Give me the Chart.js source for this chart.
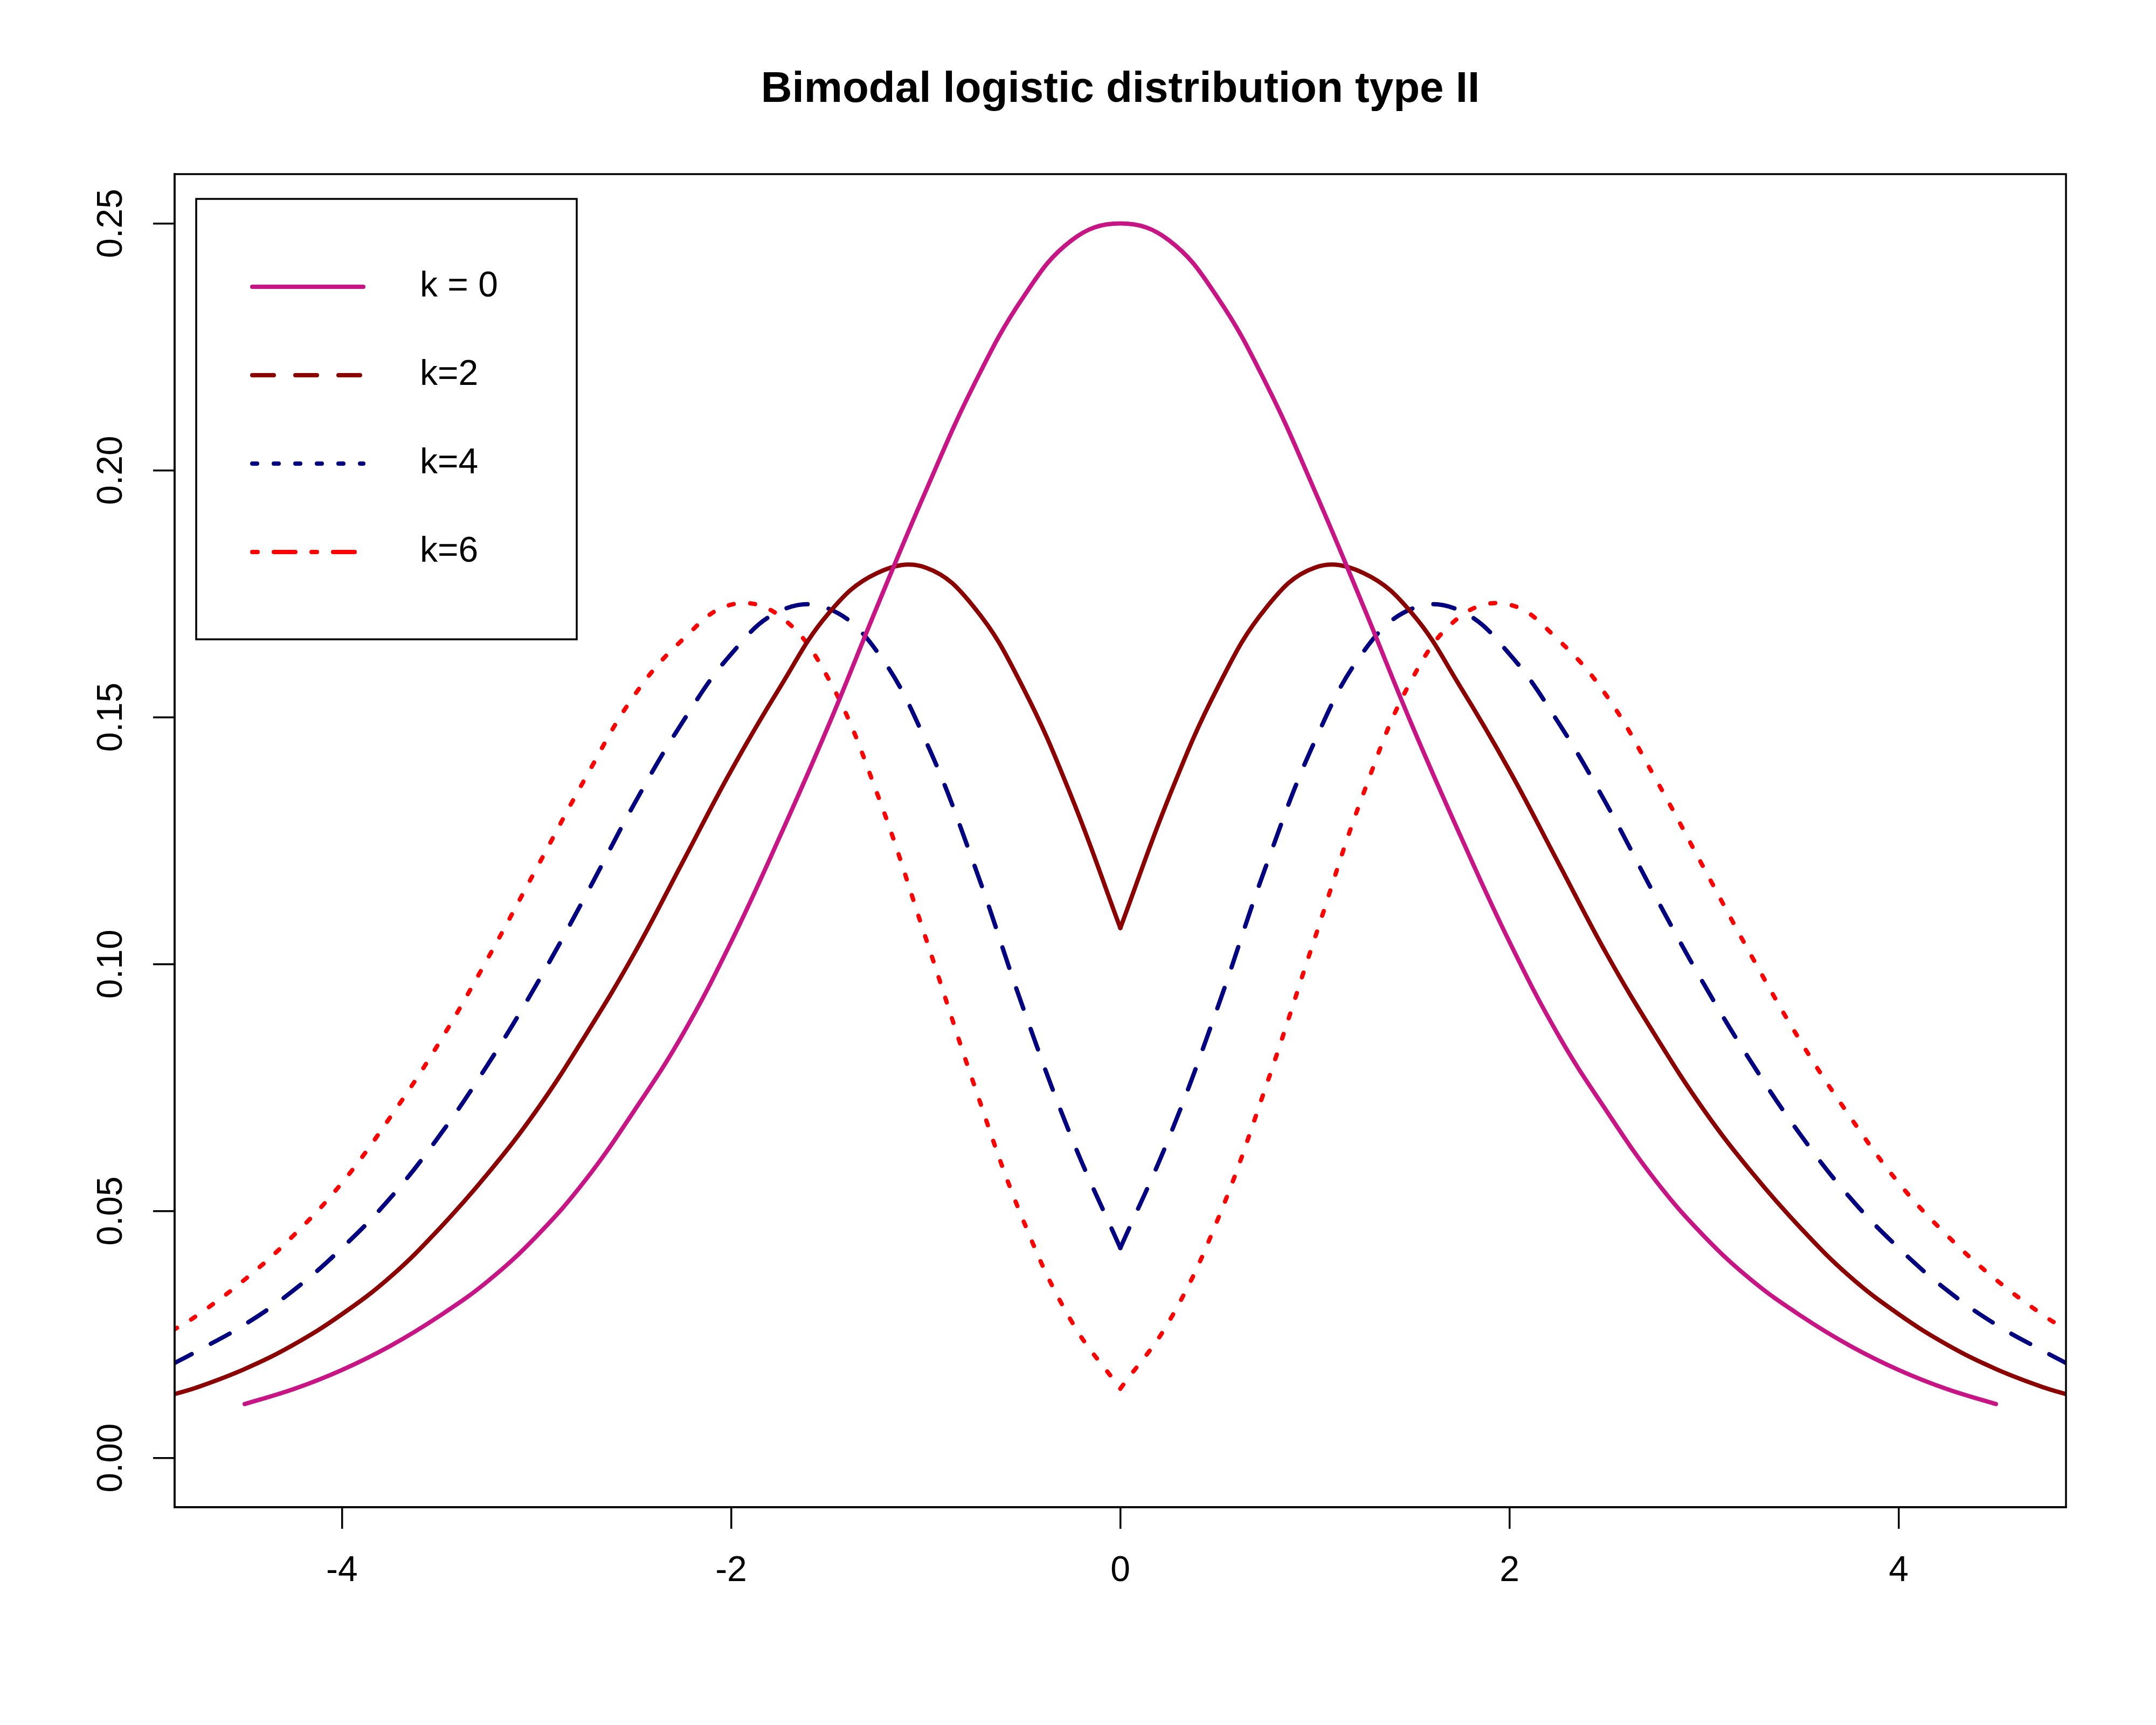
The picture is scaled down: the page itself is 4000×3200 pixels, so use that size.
<!DOCTYPE html>
<html>
<head>
<meta charset="utf-8">
<title>Bimodal logistic distribution type II</title>
<script src="https://cdn.jsdelivr.net/npm/chart.js@4.4.1/dist/chart.umd.min.js"></script>
<style>
  html, body { margin: 0; padding: 0; background: #fff; }
  canvas { display: block; }
</style>
</head>
<body>
<canvas id="chart" width="4000" height="3200"></canvas>
<script>
// -------------------------------------------------------------
// DATA
// -------------------------------------------------------------
const xs = [-4.87, -4.75, -4.5, -4.25, -4, -3.75, -3.5, -3.25, -3, -2.75, -2.5, -2.25, -2, -1.75, -1.5, -1.25, -1, -0.75, -0.5, -0.25,
  0,
  0.25, 0.5, 0.75, 1, 1.25, 1.5, 1.75, 2, 2.25, 2.5, 2.75, 3, 3.25, 3.5, 3.75, 4, 4.25, 4.5, 4.75, 4.87];

// k = 0 (plain logistic, drawn only on [-4.5, 4.5])
const k0 = [null, null, 0.0109, 0.0139, 0.0178, 0.0227, 0.0287, 0.0358, 0.0449, 0.0562, 0.0702, 0.0857, 0.1045, 0.1258, 0.1483, 0.1724, 0.1958, 0.2175, 0.2350, 0.2466,
  0.2500,
  0.2466, 0.2350, 0.2175, 0.1958, 0.1724, 0.1483, 0.1258, 0.1045, 0.0857, 0.0702, 0.0562, 0.0449, 0.0358, 0.0287, 0.0227, 0.0178, 0.0139, 0.0109, null, null];

const k2 = [0.0128, 0.0142, 0.0180, 0.0229, 0.0291, 0.0367, 0.0464, 0.0576, 0.0704, 0.0855, 0.1020, 0.1206, 0.1392, 0.1560, 0.1710, 0.1792, 0.1803, 0.1722, 0.1560, 0.1338,
  0.1073,
  0.1338, 0.1560, 0.1722, 0.1803, 0.1792, 0.1710, 0.1560, 0.1392, 0.1206, 0.1020, 0.0855, 0.0704, 0.0576, 0.0464, 0.0367, 0.0291, 0.0229, 0.0180, 0.0142, 0.0128];

const k4 = [0.0190, 0.0215, 0.0270, 0.0339, 0.0425, 0.0527, 0.0652, 0.0797, 0.0959, 0.1137, 0.1323, 0.1490, 0.1628, 0.1715, 0.1720, 0.1633, 0.1452, 0.1200, 0.0912, 0.0648,
  0.0425,
  0.0648, 0.0912, 0.1200, 0.1452, 0.1633, 0.1720, 0.1715, 0.1628, 0.1490, 0.1323, 0.1137, 0.0959, 0.0797, 0.0652, 0.0527, 0.0425, 0.0339, 0.0270, 0.0215, 0.0190];

const k6 = [0.0258, 0.0287, 0.0361, 0.0450, 0.0557, 0.0691, 0.0841, 0.1012, 0.1194, 0.1376, 0.1543, 0.1657, 0.1728, 0.1705, 0.1578, 0.1346, 0.1053, 0.0754, 0.0482, 0.0276,
  0.0140,
  0.0276, 0.0482, 0.0754, 0.1053, 0.1346, 0.1578, 0.1705, 0.1728, 0.1657, 0.1543, 0.1376, 0.1194, 0.1012, 0.0841, 0.0691, 0.0557, 0.0450, 0.0361, 0.0287, 0.0258];

const xTicks = [-4, -2, 0, 2, 4];
const yTicks = [0, 0.05, 0.10, 0.15, 0.20, 0.25];
const legendLabels = ["k = 0", "k=2", "k=4", "k=6"];

// -------------------------------------------------------------
// STYLE
// -------------------------------------------------------------
const COLORS = ["#C71585", "#8B0000", "#000080", "#FF0000"];
const LW = 8;
const DASHED = [40, 40];
const DOTTED = [9, 31];
const DOTDASH = [10, 30, 40, 30];
const FONT = "'Liberation Sans', Arial, Helvetica, sans-serif";

// curves: k=0 solid, k=2 solid, k=4 dashed, k=6 dotted
const curveDash = [[], [], DASHED, DOTTED];
// legend (as in the original figure): solid, dashed, dotted, dot-dash
const legendDash = [[], DASHED, DOTTED, DOTDASH];

// -------------------------------------------------------------
// HELPERS
// -------------------------------------------------------------
function points(ys, from, to) {
  const out = [];
  xs.forEach((x, i) => {
    if (x >= from && x <= to && ys[i] !== null) out.push({ x: x, y: ys[i] });
  });
  return out;
}

function curve(data, i) {
  return {
    data: data,
    borderColor: COLORS[i],
    borderWidth: LW,
    borderDash: curveDash[i],
    borderCapStyle: "round",
    borderJoinStyle: "round",
    pointRadius: 0,
    tension: 0.4,
    fill: false
  };
}

// k=2,4,6 have a cusp at 0: draw each half on its own so the V stays sharp
const datasets = [curve(points(k0, -Infinity, Infinity), 0)];
[k2, k4, k6].forEach((ys, j) => {
  datasets.push(curve(points(ys, -Infinity, 0), j + 1));
  datasets.push(curve(points(ys, 0, Infinity), j + 1));
});

// -------------------------------------------------------------
// PLUGINS: R-like box and legend
// -------------------------------------------------------------
const plotBox = {
  id: "plotBox",
  afterDatasetsDraw(chart) {
    const { ctx, chartArea: a } = chart;
    ctx.save();
    ctx.strokeStyle = "#000";
    ctx.lineWidth = 3.5;
    ctx.setLineDash([]);
    ctx.strokeRect(a.left, a.top, a.right - a.left, a.bottom - a.top);
    ctx.restore();
  }
};

const rLegend = {
  id: "rLegend",
  afterDatasetsDraw(chart) {
    const { ctx, chartArea: a } = chart;
    const left = a.left + 40, top = a.top + 46;
    ctx.save();
    ctx.fillStyle = "#fff";
    ctx.fillRect(left, top, 706, 817);
    ctx.strokeStyle = "#000";
    ctx.lineWidth = 3.5;
    ctx.strokeRect(left, top, 706, 817);
    legendLabels.forEach((label, i) => {
      const y = top + 163 + i * 164;
      ctx.beginPath();
      ctx.setLineDash(legendDash[i]);
      ctx.lineCap = "round";
      ctx.strokeStyle = COLORS[i];
      ctx.lineWidth = LW;
      ctx.moveTo(left + 104, y);
      ctx.lineTo(left + 310, y);
      ctx.stroke();
      ctx.setLineDash([]);
      ctx.fillStyle = "#000";
      ctx.font = "66px " + FONT;
      ctx.textAlign = "left";
      ctx.textBaseline = "middle";
      ctx.fillText(label, left + 415, y);
    });
    ctx.restore();
  }
};

// -------------------------------------------------------------
// CHART
// -------------------------------------------------------------
Chart.defaults.font.family = FONT;
Chart.defaults.font.size = 66;
Chart.defaults.color = "#000";

new Chart(document.getElementById("chart"), {
  type: "line",
  data: { datasets: datasets },
  options: {
    responsive: false,
    devicePixelRatio: 1,
    animation: false,
    events: [],
    layout: { padding: { left: 0, top: 0, right: 167, bottom: 204 } },
    plugins: {
      legend: { display: false },
      tooltip: { enabled: false },
      title: {
        display: true,
        fullSize: false,
        text: "Bimodal logistic distribution type II",
        color: "#000",
        font: { family: FONT, size: 80, weight: "bold", lineHeight: 1.2 },
        padding: { top: 119, bottom: 108 }
      }
    },
    scales: {
      x: {
        type: "linear",
        min: -4.86,
        max: 4.86,
        afterBuildTicks: (scale) => { scale.ticks = xTicks.map(v => ({ value: v })); },
        afterFit: (scale) => { scale.height = 200; },
        ticks: {
          padding: 39,
          maxRotation: 0,
          autoSkip: false,
          callback: (v) => String(v)
        },
        grid: { display: true, drawOnChartArea: false, drawTicks: true, tickLength: 40, lineWidth: 3.5, color: "#000" },
        border: { display: true, color: "#000", width: 3.5 }
      },
      y: {
        type: "linear",
        min: -0.01,
        max: 0.26,
        afterBuildTicks: (scale) => { scale.ticks = yTicks.map(v => ({ value: v })); },
        afterFit: (scale) => { scale.width = 324; },
        ticks: {
          padding: 12,
          minRotation: 90,
          maxRotation: 90,
          crossAlign: "center",
          autoSkip: false,
          callback: (v) => Number(v).toFixed(2)
        },
        grid: { display: true, drawOnChartArea: false, drawTicks: true, tickLength: 40, lineWidth: 3.5, color: "#000" },
        border: { display: true, color: "#000", width: 3.5 }
      }
    }
  },
  plugins: [plotBox, rLegend]
});
</script>
</body>
</html>
